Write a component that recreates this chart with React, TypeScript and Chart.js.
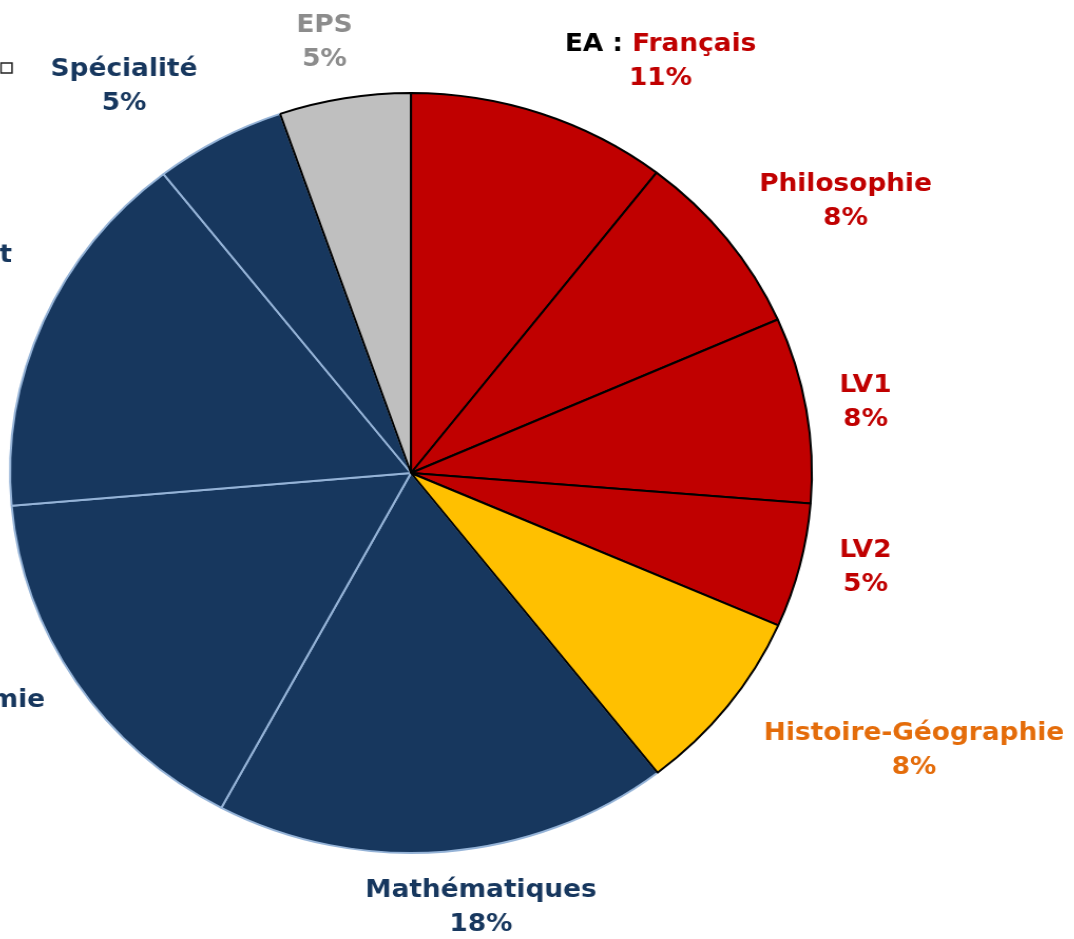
import React, { useEffect, useRef } from 'react';
import { Chart, registerables } from 'chart.js';
Chart.register(...registerables);

// Data (clockwise, starting with Mathématiques so that the dark-blue slices are drawn first)
const CATEGORIES = [
  'Mathématiques',
  'Physique-Chimie',
  'Sciences du vivant',
  'Spécialité',
  'EPS',
  'EA : Français',
  'Philosophie',
  'LV1',
  'LV2',
  'Histoire-Géographie',
];
const VALUES = [18.4, 15.8, 15.8, 5.3, 5.3, 10.5, 7.9, 7.9, 5.3, 7.9];
const PERCENT_LABELS = ['18%', '16%', '16%', '5%', '5%', '11%', '8%', '8%', '5%', '8%'];
// slices that sit clockwise from 12 o'clock before Mathématiques (EA … Histoire-Géographie)
const FIRST_FROM_TOP = 5;

const NAVY = '#17375E';
const RED = '#C00000';
const YELLOW = '#FFC000';
const GREY = '#BFBFBF';
const LIGHT = '#95B3D7';
const FILLS = [NAVY, NAVY, NAVY, NAVY, GREY, RED, RED, RED, RED, YELLOW];
const BORDERS = [LIGHT, LIGHT, LIGHT, LIGHT, '#000', '#000', '#000', '#000', '#000', '#000'];
const TEXT_COLORS = [NAVY, NAVY, NAVY, NAVY, '#8C8C8C', RED, RED, RED, RED, '#E46C0A'];

// label placement (page pixels): x = centre, or right = right end of first line; y = first line
const LABEL_POS: any[] = [
  { x: 481, y: 890 },
  { right: 45, y: 700 },
  { right: 12, y: 255 },
  { x: 124, y: 69 },
  { x: 324.5, y: 25 },
  { x: 660.5, y: 44 },
  { x: 845.5, y: 184 },
  { x: 865.5, y: 385 },
  { x: 865.5, y: 550 },
  { x: 914, y: 733 },
];

const SCALE_X = 1.055;
const CANVAS_LEFT = -200;
const CANVAS_W = 1250;
const CANVAS_H = 939;
const PIE_CX = 411;
const PIE_CY = 473;
const RADIUS = 380;
const LINE_GAP = 34;
const FONT = 'bold 25px "DejaVu Sans", Verdana, sans-serif';
const PCT_FONT = 'bold 25px "DejaVu Sans", Verdana, sans-serif';

const px = (pageX: number) => (pageX - CANVAS_LEFT) / SCALE_X;

const labelPlugin = {
  id: 'sliceLabels',
  afterDraw(chart: any) {
    const ctx = chart.ctx;
    ctx.save();
    ctx.textBaseline = 'middle';
    CATEGORIES.forEach((name, i) => {
      const pos = LABEL_POS[i];
      const color = TEXT_COLORS[i];
      ctx.font = FONT;
      const parts = name.split(' : ');
      const prefix = parts.length > 1 ? parts[0] + ' : ' : '';
      const main = parts.length > 1 ? parts[1] : name;
      const w1 = ctx.measureText(prefix).width;
      const w2 = ctx.measureText(main).width;
      const total = w1 + w2;
      let cx: number;
      if (pos.right !== undefined) cx = px(pos.right) - total / 2;
      else cx = px(pos.x);
      const x0 = cx - total / 2;
      ctx.textAlign = 'left';
      if (prefix) {
        ctx.fillStyle = '#000';
        ctx.fillText(prefix, x0, pos.y);
      }
      ctx.fillStyle = color;
      ctx.fillText(main, x0 + w1, pos.y);
      ctx.font = PCT_FONT;
      ctx.textAlign = 'center';
      ctx.fillText(PERCENT_LABELS[i], cx, pos.y + LINE_GAP);
    });
    // small marker box at the left edge
    ctx.strokeStyle = '#222';
    ctx.lineWidth = 1.5;
    ctx.strokeRect(px(1), 63, 11 / SCALE_X, 10);
    ctx.restore();
  },
};

export default function App() {
  const ref = useRef<HTMLCanvasElement>(null);
  useEffect(() => {
    if (!ref.current) return;
    const total = VALUES.reduce((a, b) => a + b, 0);
    const before = VALUES.slice(FIRST_FROM_TOP).reduce((a, b) => a + b, 0);
    const rotation = (before / total) * 360;
    const cxCanvas = (PIE_CX - CANVAS_LEFT) / SCALE_X;
    const padRight = CANVAS_W - 2 * cxCanvas;
    const padTop = 2 * PIE_CY - CANVAS_H;
    const chart = new Chart(ref.current, {
      type: 'pie',
      data: {
        labels: CATEGORIES,
        datasets: [
          {
            data: VALUES,
            backgroundColor: FILLS,
            borderColor: BORDERS,
            borderWidth: 2,
          },
        ],
      },
      options: {
        responsive: false,
        maintainAspectRatio: false,
        animation: false,
        rotation,
        radius: RADIUS,
        layout: { padding: { top: padTop, bottom: 0, left: 0, right: padRight } },
        plugins: { legend: { display: false }, tooltip: { enabled: false } },
      },
      plugins: [labelPlugin],
    } as any);
    return () => chart.destroy();
  }, []);
  return (
    <div
      style={{
        position: 'fixed',
        left: 0,
        top: 0,
        width: 1074,
        height: 939,
        overflow: 'hidden',
        background: '#fff',
      }}
    >
      <canvas
        ref={ref}
        width={CANVAS_W}
        height={CANVAS_H}
        style={{
          position: 'absolute',
          left: CANVAS_LEFT,
          top: 0,
          width: CANVAS_W,
          height: CANVAS_H,
          transform: `scaleX(${SCALE_X})`,
          transformOrigin: '0 0',
        }}
      />
    </div>
  );
}
